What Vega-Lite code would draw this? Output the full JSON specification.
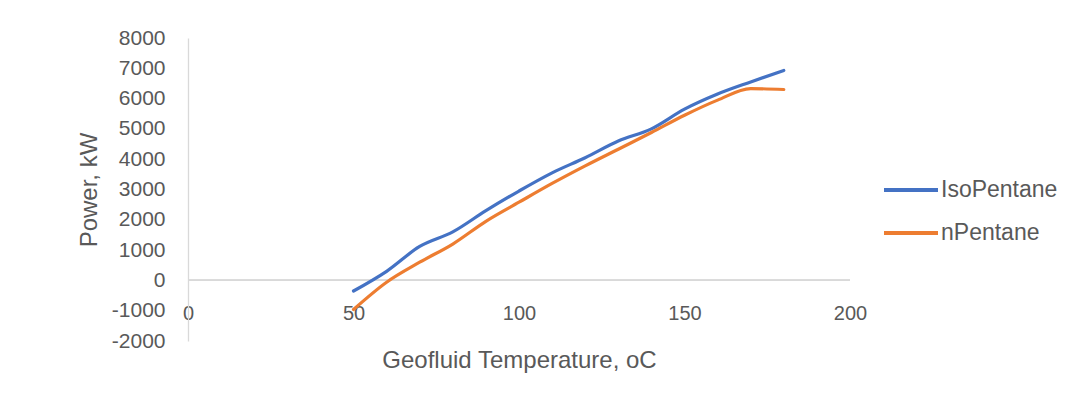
{
  "$schema": "https://vega.github.io/schema/vega-lite/v6.json",
  "autosize": "none",
  "width": 662,
  "height": 303,
  "padding": {"left": 188, "top": 38, "right": 226, "bottom": 64},
  "background": "white",
  "config": {
    "view": {"stroke": null},
    "font": "Liberation Sans",
    "axis": {"grid": false, "ticks": false, "labelColor": "#595959", "titleColor": "#595959", "labelFont": "Liberation Sans", "titleFont": "Liberation Sans", "titleFontWeight": "normal", "labelOverlap": false},
    "legend": {"labelColor": "#595959", "labelFont": "Liberation Sans"}
  },
  "data": {
    "values": [
      {"T": 50, "Power": -350, "Fluid": "IsoPentane"},
      {"T": 60, "Power": 300, "Fluid": "IsoPentane"},
      {"T": 70, "Power": 1120, "Fluid": "IsoPentane"},
      {"T": 80, "Power": 1600, "Fluid": "IsoPentane"},
      {"T": 90, "Power": 2300, "Fluid": "IsoPentane"},
      {"T": 100, "Power": 2950, "Fluid": "IsoPentane"},
      {"T": 110, "Power": 3550, "Fluid": "IsoPentane"},
      {"T": 120, "Power": 4050, "Fluid": "IsoPentane"},
      {"T": 130, "Power": 4600, "Fluid": "IsoPentane"},
      {"T": 140, "Power": 5000, "Fluid": "IsoPentane"},
      {"T": 150, "Power": 5650, "Fluid": "IsoPentane"},
      {"T": 160, "Power": 6150, "Fluid": "IsoPentane"},
      {"T": 170, "Power": 6550, "Fluid": "IsoPentane"},
      {"T": 180, "Power": 6930, "Fluid": "IsoPentane"},
      {"T": 50, "Power": -960, "Fluid": "nPentane"},
      {"T": 60, "Power": -60, "Fluid": "nPentane"},
      {"T": 70, "Power": 600, "Fluid": "nPentane"},
      {"T": 80, "Power": 1200, "Fluid": "nPentane"},
      {"T": 90, "Power": 1950, "Fluid": "nPentane"},
      {"T": 100, "Power": 2580, "Fluid": "nPentane"},
      {"T": 110, "Power": 3200, "Fluid": "nPentane"},
      {"T": 120, "Power": 3780, "Fluid": "nPentane"},
      {"T": 130, "Power": 4330, "Fluid": "nPentane"},
      {"T": 140, "Power": 4880, "Fluid": "nPentane"},
      {"T": 150, "Power": 5450, "Fluid": "nPentane"},
      {"T": 160, "Power": 5950, "Fluid": "nPentane"},
      {"T": 170, "Power": 6330, "Fluid": "nPentane"},
      {"T": 180, "Power": 6300, "Fluid": "nPentane"}
    ]
  },
  "layer": [
    {
      "mark": {"type": "rule", "color": "#D9D9D9", "strokeWidth": 1.3},
      "encoding": {
        "y": {
          "datum": 0, "type": "quantitative",
          "scale": {"domain": [-2000, 8000], "nice": false},
          "axis": {"values": [-2000, -1000, 0, 1000, 2000, 3000, 4000, 5000, 6000, 7000, 8000], "domain": true, "domainColor": "#D9D9D9", "domainWidth": 1.3, "labelPadding": 23, "labelFontSize": 21, "labelOverlap": false, "labelFlush": false, "labelExpr": "'' + datum.value", "title": "Power,  kW", "titleFontSize": 24, "titlePadding": 10}
        }
      }
    },
    {
      "mark": {"type": "line", "interpolate": "monotone", "strokeWidth": 3.2, "strokeCap": "round"},
      "encoding": {
        "x": {
          "field": "T", "type": "quantitative",
          "scale": {"domain": [0, 200], "nice": false},
          "axis": {"values": [0, 50, 100, 150, 200], "domain": false, "offset": -40, "labelPadding": 2, "labelFontSize": 20, "labelFlush": false, "labelOverlap": false, "labelExpr": "'' + datum.value", "title": "Geofluid Temperature, oC", "titleFontSize": 24, "titlePadding": 25}
        },
        "y": {
          "field": "Power", "type": "quantitative",
          "scale": {"domain": [-2000, 8000], "nice": false},
          "axis": {"values": [-2000, -1000, 0, 1000, 2000, 3000, 4000, 5000, 6000, 7000, 8000], "domain": true, "domainColor": "#D9D9D9", "domainWidth": 1.3, "labelPadding": 23, "labelFontSize": 21, "labelOverlap": false, "labelFlush": false, "labelExpr": "'' + datum.value", "title": "Power,  kW", "titleFontSize": 24, "titlePadding": 10}
        },
        "color": {
          "field": "Fluid", "type": "nominal",
          "scale": {"domain": ["IsoPentane", "nPentane"], "range": ["#4472C4", "#ED7D31"]},
          "legend": {"title": null, "orient": "none", "legendX": 694, "legendY": 123, "symbolType": "stroke", "symbolSize": 2916, "symbolStrokeWidth": 4, "labelFontSize": 23, "labelOffset": 1, "rowPadding": 2}
        }
      }
    }
  ]
}
